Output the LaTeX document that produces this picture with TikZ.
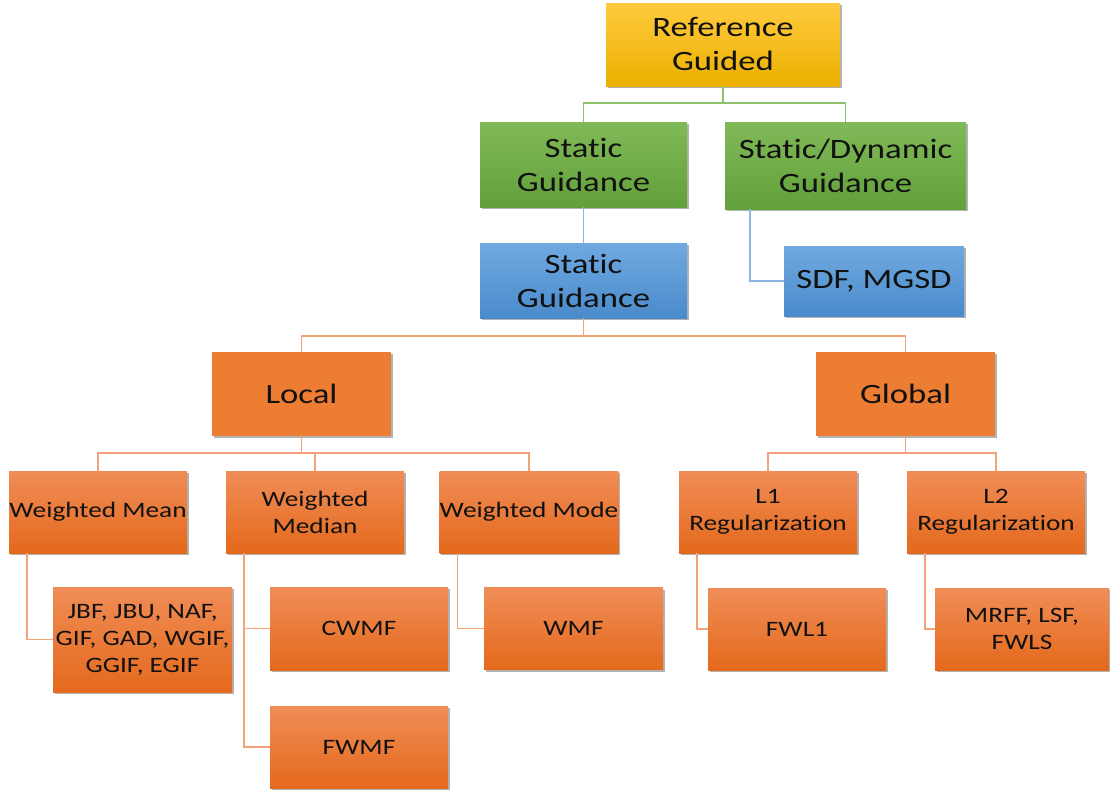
\documentclass[tikz,border=0pt]{standalone}
\usepackage{fontspec}
\setmainfont{Carlito}[FakeStretch=1.24, Ligatures=NoCommon]
\usetikzlibrary{shadows}

\definecolor{goldtop}{HTML}{FFCA3E}
\definecolor{goldbot}{HTML}{ECB000}
\definecolor{greentop}{HTML}{80BA58}
\definecolor{greenbot}{HTML}{62A03A}
\definecolor{bluetop}{HTML}{70A9E0}
\definecolor{bluebot}{HTML}{4A8BCB}
\definecolor{orgtop}{HTML}{F08D57}
\definecolor{orgbot}{HTML}{E4691C}
\definecolor{orgflat}{HTML}{EC7D33}
\definecolor{glinec}{HTML}{8DC26A}
\definecolor{blinec}{HTML}{8FB6E2}
\definecolor{olinec}{HTML}{F4A277}
\definecolor{txt}{HTML}{111111}

\tikzset{
  box/.style={rectangle, inner sep=0pt, align=center, text=txt,
    drop shadow={shadow xshift=1.5pt, shadow yshift=-2pt, opacity=0.3, fill=black}},
  big/.style={font=\fontsize{28}{34}\selectfont},
  small/.style={font=\fontsize{22}{27}\selectfont},
  goldbox/.style={box, big, top color=goldtop, bottom color=goldbot},
  greenbox/.style={box, big, top color=greentop, bottom color=greenbot},
  bluebox/.style={box, big, top color=bluetop, bottom color=bluebot},
  orgbox/.style={box, small, top color=orgtop, bottom color=orgbot},
  flatbox/.style={box, big, fill=orgflat},
  gline/.style={draw=glinec, line width=1.5pt},
  bline/.style={draw=blinec, line width=1.5pt},
  oline/.style={draw=olinec, line width=1.5pt},
}

\begin{document}
\begin{tikzpicture}[x=1pt, y=-1pt]
\useasboundingbox (0,0) rectangle (1110,793);

% top of the hierarchy
\node[goldbox, minimum width=234pt, minimum height=83pt] (ref) at (723,44.5) {Reference\\Guided};
\node[greenbox, minimum width=207pt, minimum height=85pt] (sg) at (583.5,164.5) {Static\\Guidance};
\node[greenbox, minimum width=241pt, minimum height=87pt] (sdg) at (845.5,165.5) {Static/Dynamic\\Guidance};
\node[bluebox, minimum width=207pt, minimum height=75pt] (sgb) at (583.5,280.5) {Static\\Guidance};
\node[bluebox, minimum width=180pt, minimum height=70pt] (sdf) at (874,281) {SDF, MGSD};

% local / global
\node[flatbox, minimum width=179pt, minimum height=84pt] (local) at (301.5,394) {Local};
\node[flatbox, minimum width=179pt, minimum height=84pt] (global) at (905.5,394) {Global};

% third level
\node[orgbox, minimum width=178pt, minimum height=82pt] (wmean) at (98,512) {Weighted Mean};
\node[orgbox, minimum width=178pt, minimum height=82pt] (wmed) at (315,512) {Weighted\\Median};
\node[orgbox, minimum width=178pt, minimum height=82pt] (wmode) at (529,512) {Weighted Mode};
\node[orgbox, minimum width=178pt, minimum height=82pt] (l1) at (768,512) {L1\\Regularization};
\node[orgbox, minimum width=178pt, minimum height=82pt] (l2) at (996,512) {L2\\Regularization};

% methods
\node[orgbox, minimum width=179pt, minimum height=105pt] (jbf) at (142.5,639.5) {JBF, JBU, NAF,\\GIF, GAD, WGIF,\\GGIF, EGIF};
\node[orgbox, minimum width=178pt, minimum height=83pt] (cwmf) at (359,628.5) {CWMF};
\node[orgbox, minimum width=178pt, minimum height=82pt] (fwmf) at (359,747) {FWMF};
\node[orgbox, minimum width=179pt, minimum height=82pt] (wmf) at (573.5,628.5) {WMF};
\node[orgbox, minimum width=178pt, minimum height=82pt] (fwl1) at (797,629) {FWL1};
\node[orgbox, minimum width=174pt, minimum height=82pt] (mrff) at (1022,629) {MRFF, LSF,\\FWLS};

% connectors
\draw[gline] (ref.south) -- ++(0,17) -| (sg.north);
\draw[gline] (ref.south) -- ++(0,17) -| (sdg.north);
\draw[bline] (sg.south) -- (sgb.north);
\draw[bline] ([xshift=25pt]sdg.south west) |- (sdf.west);

\draw[oline] (sgb.south) -- ++(0,18) -| (local.north);
\draw[oline] (sgb.south) -- ++(0,18) -| (global.north);

\draw[oline] (local.south) -- ++(0,17) -| (wmean.north);
\draw[oline] (local.south) -- ++(0,17) -| (wmed.north);
\draw[oline] (local.south) -- ++(0,17) -| (wmode.north);
\draw[oline] (global.south) -- ++(0,17) -| (l1.north);
\draw[oline] (global.south) -- ++(0,17) -| (l2.north);

\draw[oline] ([xshift=18pt]wmean.south west) |- (jbf.west);
\draw[oline] ([xshift=18pt]wmed.south west) |- (cwmf.west);
\draw[oline] ([xshift=18pt]wmed.south west) |- (fwmf.west);
\draw[oline] ([xshift=18pt]wmode.south west) |- (wmf.west);
\draw[oline] ([xshift=18pt]l1.south west) |- (fwl1.west);
\draw[oline] ([xshift=18pt]l2.south west) |- (mrff.west);
\end{tikzpicture}
\end{document}
